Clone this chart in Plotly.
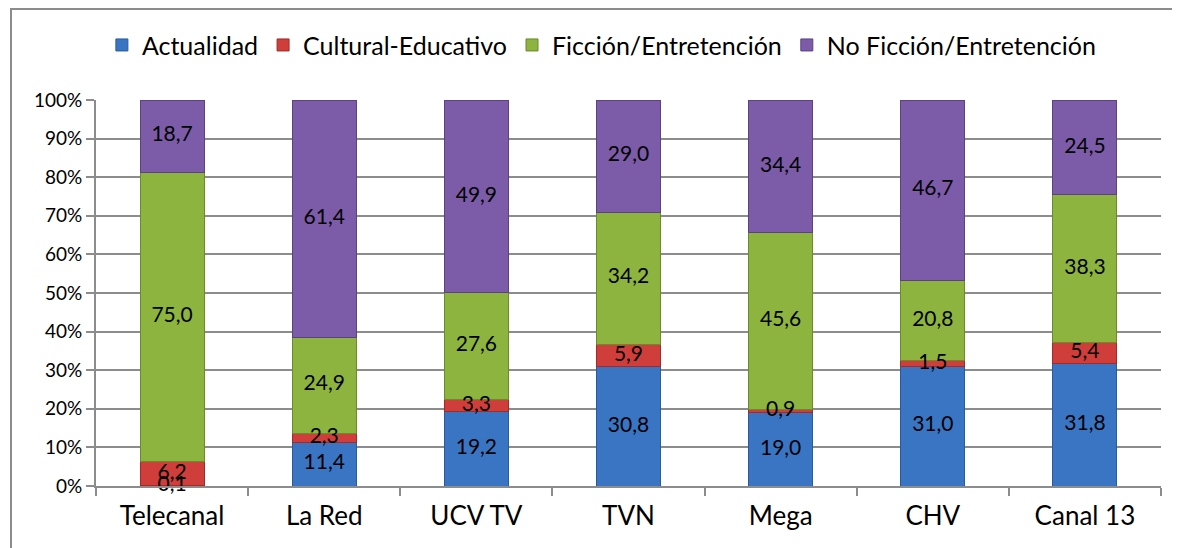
import plotly.graph_objects as go

# Canales y categorías de programación (% de la oferta)
canales = ["Telecanal", "La Red", "UCV TV", "TVN", "Mega", "CHV", "Canal 13"]
actualidad = [0.1, 11.4, 19.2, 30.8, 19.0, 31.0, 31.8]
cultural = [6.2, 2.3, 3.3, 5.9, 0.9, 1.5, 5.4]
ficcion = [75.0, 24.9, 27.6, 34.2, 45.6, 20.8, 38.3]
no_ficcion = [18.7, 61.4, 49.9, 29.0, 34.4, 46.7, 24.5]

y_ticks = [0, 10, 20, 30, 40, 50, 60, 70, 80, 90, 100]

series = [
    ("Actualidad", actualidad, "#3A75C4", "#2A5A9C"),
    ("Cultural-Educativo", cultural, "#CF3E3A", "#9E2C2A"),
    ("Ficción/Entretención", ficcion, "#8CB43E", "#6A8A2C"),
    ("No Ficción/Entretención", no_ficcion, "#7C5BA8", "#5C4280"),
]

FONT = "Lato"

fig = go.Figure()
for name, vals, color, edge in series:
    fig.add_trace(go.Bar(
        x=canales,
        y=vals,
        name=name,
        marker=dict(color=color, line=dict(color=edge, width=1)),
        hoverinfo="skip",
    ))

# etiquetas de datos en el centro de cada segmento (encima de todas las barras)
totals = [sum(s[1][i] for s in series) for i in range(len(canales))]
lab_x, lab_y, lab_t = [], [], []
for i, c in enumerate(canales):
    base = 0.0
    for _, vals, _, _ in series:
        v = vals[i]
        lab_x.append(c)
        lab_y.append((base + v / 2) / totals[i] * 100)
        lab_t.append(f"{v:.1f}".replace(".", ","))
        base += v
fig.add_trace(go.Scatter(
    x=lab_x, y=lab_y, text=lab_t, mode="text",
    textfont=dict(family=FONT, size=21, color="black"),
    showlegend=False, hoverinfo="skip", cliponaxis=False,
))

# la página añade 8 px de margen: la figura empieza en (8, 8)
W, H = 1172, 540
fig.update_layout(
    width=W,
    height=H,
    barmode="stack",
    barnorm="percent",
    bargap=0.58,
    plot_bgcolor="white",
    paper_bgcolor="white",
    margin=dict(l=88, r=19, t=92, b=62, autoexpand=False),
    font=dict(family=FONT, color="black"),
    legend=dict(
        orientation="h",
        x=0.475,
        xanchor="center",
        y=1.142,
        yanchor="middle",
        font=dict(family=FONT, size=25),
        itemwidth=30,
        traceorder="normal",
    ),
    shapes=[dict(
        type="rect", xref="paper", yref="paper",
        x0=(3 - 88) / 1065, x1=1.2,
        y0=-0.3, y1=1 + 91 / 386,
        line=dict(color="#8c8c8c", width=2),
        layer="below",
    )],
)

fig.update_xaxes(
    showline=True,
    linecolor="#8c8c8c",
    linewidth=2,
    ticks="outside",
    tickson="boundaries",
    ticklen=8,
    tickcolor="#8c8c8c",
    tickwidth=2,
    ticklabelstandoff=6,
    tickfont=dict(family=FONT, size=26),
)
fig.update_yaxes(
    range=[0, 100],
    tickvals=y_ticks,
    ticktext=[f"{t}%" for t in y_ticks],
    showgrid=True,
    gridcolor="#8c8c8c",
    gridwidth=1.5,
    showline=True,
    linecolor="#8c8c8c",
    linewidth=2,
    ticks="outside",
    ticklen=8,
    tickcolor="#8c8c8c",
    tickwidth=2,
    tickfont=dict(family=FONT, size=19),
    zeroline=False,
)

fig.write_html("out.html")
